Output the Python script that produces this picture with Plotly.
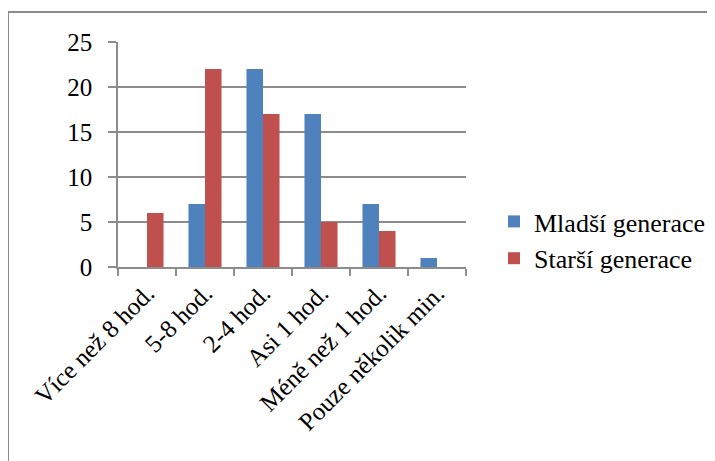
import plotly.graph_objects as go

categories = ["Více než 8 hod.", "5-8 hod.", "2-4 hod.", "Asi 1 hod.", "Méně než 1 hod.", "Pouze několik min."]
mladsi = [0, 7, 22, 17, 7, 1]
starsi = [6, 22, 17, 5, 4, 0]
y_ticks = [0, 5, 10, 15, 20, 25]

FONT = "Liberation Serif"
OFF = 8  # page body margin
W, H = 715, 461
L, R, T, B = 118 - OFF, 466 - OFF, 42 - OFF, 267 - OFF

fig = go.Figure()
fig.add_trace(go.Bar(x=categories, y=mladsi, name="Mladší generace",
                     marker=dict(color="#4F81BD", line=dict(width=0)), legendgroup="a"))
fig.add_trace(go.Bar(x=categories, y=starsi, name="Starší generace",
                     marker=dict(color="#C0504D", line=dict(width=0)), legendgroup="b"))

def px(X):
    return (X - OFF - L) / (R - L)

def py(Y):
    return (B - (Y - OFF)) / (B - T)

tick_font = dict(family=FONT, size=25, color="black")
leg_font = dict(family=FONT, size=26, color="black")

fig.update_layout(
    width=W, height=H,
    margin=dict(l=L, r=W - R, t=T, b=H - B, pad=0, autoexpand=False),
    paper_bgcolor="white", plot_bgcolor="white",
    font=tick_font,
    barmode="group", bargap=0.43, bargroupgap=0,
    showlegend=True,
    legend=dict(x=px(494), y=py(240), xanchor="left", yanchor="middle",
                font=leg_font, tracegroupgap=19, traceorder="normal",
                itemwidth=30, bgcolor="rgba(0,0,0,0)"),
    xaxis=dict(type="category", tickangle=-45, showgrid=False, automargin=False,
               showline=True, linecolor="#8c8c8c", linewidth=1.5,
               ticks="outside", ticklen=7, tickcolor="#8c8c8c", tickwidth=1.5,
               tickson="boundaries", tickfont=tick_font),
    yaxis=dict(range=[0, 25], tickvals=y_ticks, showgrid=True, gridcolor="#8c8c8c",
               gridwidth=1.5, showline=True, linecolor="#8c8c8c", linewidth=1.5,
               ticks="outside", ticklen=8, tickcolor="#8c8c8c", tickwidth=1.5, automargin=False,
               zeroline=False, tickfont=tick_font, ticklabelstandoff=11),
    shapes=[
        dict(type="line", xref="paper", yref="paper", x0=px(8), x1=px(730),
             y0=py(12), y1=py(12), line=dict(color="#8c8c8c", width=2)),
        dict(type="line", xref="paper", yref="paper", x0=px(8), x1=px(8),
             y0=py(12), y1=py(480), line=dict(color="#8c8c8c", width=2)),
    ],
)

fig.write_html("out.html")
